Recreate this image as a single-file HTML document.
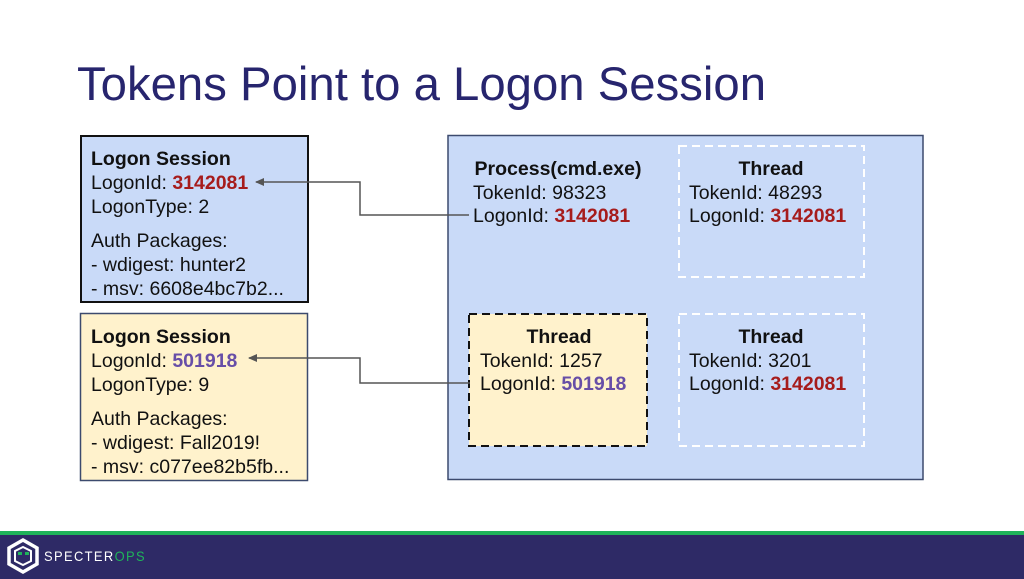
<!DOCTYPE html>
<html><head><meta charset="utf-8"><style>
html,body{margin:0;padding:0;background:#fff}
svg{display:block;font-family:"Liberation Sans",sans-serif}
</style></head><body>
<svg width="1024" height="579" viewBox="0 0 1024 579" xmlns="http://www.w3.org/2000/svg">
<defs><marker id="a" markerWidth="10" markerHeight="10" refX="8" refY="5" orient="auto" markerUnits="userSpaceOnUse"><path d="M0,1 L9,5 L0,9 z" fill="#555"/></marker></defs>
<text x="77" y="100" font-size="47" fill="#27256e" textLength="689" lengthAdjust="spacingAndGlyphs">Tokens Point to a Logon Session</text>

<rect x="81" y="136" width="227" height="166" fill="#c9daf8" stroke="#111" stroke-width="2"/>
<g font-size="19.5" fill="#111">
<text x="91" y="165" font-weight="bold">Logon Session</text>
<text x="91" y="189">LogonId: <tspan fill="#a61c1c" font-weight="bold">3142081</tspan></text>
<text x="91" y="213">LogonType: 2</text>
<text x="91" y="247">Auth Packages:</text>
<text x="91" y="271">- wdigest: hunter2</text>
<text x="91" y="295">- msv: 6608e4bc7b2...</text>
</g>

<rect x="80.5" y="313.5" width="227" height="167" fill="#fff2cc" stroke="#3c4a6e" stroke-width="1.5"/>
<g font-size="19.5" fill="#111">
<text x="91" y="343" font-weight="bold">Logon Session</text>
<text x="91" y="367">LogonId: <tspan fill="#674ea7" font-weight="bold">501918</tspan></text>
<text x="91" y="391">LogonType: 9</text>
<text x="91" y="425">Auth Packages:</text>
<text x="91" y="449">- wdigest: Fall2019!</text>
<text x="91" y="473">- msv: c077ee82b5fb...</text>
</g>

<rect x="448" y="135.5" width="475" height="344" fill="#c9daf8" stroke="#3c4a6e" stroke-width="1.5"/>
<rect x="679" y="146" width="185" height="131" fill="none" stroke="#fff" stroke-width="2" stroke-dasharray="8,5"/>
<rect x="469" y="314" width="178" height="132" fill="#fff2cc" stroke="#111" stroke-width="2" stroke-dasharray="8,5"/>
<rect x="679" y="314" width="185" height="132" fill="none" stroke="#fff" stroke-width="2" stroke-dasharray="8,5"/>

<g font-size="19.5" fill="#111">
<text x="558" y="175" font-weight="bold" text-anchor="middle">Process(cmd.exe)</text>
<text x="473" y="199">TokenId: 98323</text>
<text x="473" y="222">LogonId: <tspan fill="#a61c1c" font-weight="bold">3142081</tspan></text>

<text x="771" y="175" font-weight="bold" text-anchor="middle">Thread</text>
<text x="689" y="199">TokenId: 48293</text>
<text x="689" y="222">LogonId: <tspan fill="#a61c1c" font-weight="bold">3142081</tspan></text>

<text x="559" y="343" font-weight="bold" text-anchor="middle">Thread</text>
<text x="480" y="367">TokenId: 1257</text>
<text x="480" y="390">LogonId: <tspan fill="#674ea7" font-weight="bold">501918</tspan></text>

<text x="771" y="343" font-weight="bold" text-anchor="middle">Thread</text>
<text x="689" y="367">TokenId: 3201</text>
<text x="689" y="390">LogonId: <tspan fill="#a61c1c" font-weight="bold">3142081</tspan></text>
</g>

<polyline points="469,215 360,215 360,182 256,182" fill="none" stroke="#555" stroke-width="1.5" marker-end="url(#a)"/>
<polyline points="470,383 360,383 360,358 249,358" fill="none" stroke="#555" stroke-width="1.5" marker-end="url(#a)"/>

<rect x="0" y="531" width="1024" height="4" fill="#1fb35a"/>
<rect x="0" y="535" width="1024" height="44" fill="#2e2a66"/>
<g fill="none" stroke="#fff" stroke-width="3.5">
<polygon points="23,540 37,548 37,564 23,572 9,564 9,548"/>
<polygon points="23,547 31,551 31,561 23,565 15,561 15,551" stroke-width="2"/>
</g>
<rect x="18" y="552" width="4" height="3" fill="#1fb35a"/><rect x="25" y="552" width="4" height="3" fill="#1fb35a"/>
<text x="44" y="561" font-size="14" fill="#fff" letter-spacing="1.5" textLength="102" lengthAdjust="spacingAndGlyphs">SPECTER<tspan fill="#1fb35a">OPS</tspan></text>
</svg>
</body></html>
